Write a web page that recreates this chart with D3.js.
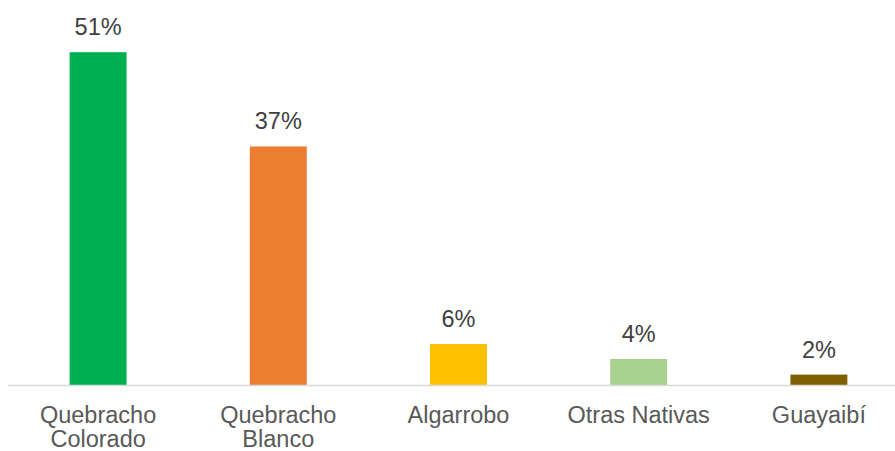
<!doctype html>
<html>
<head>
<meta charset="utf-8">
<script src="https://cdn.jsdelivr.net/npm/d3@7"></script>
<style>
  body { margin: 0; background: #fff; }
  svg { display: block; font-family: "Liberation Sans", Arial, sans-serif; }
</style>
</head>
<body>
<svg id="chart" width="895" height="451"></svg>
<script>
  var categories = [['Quebracho', 'Colorado'], ['Quebracho', 'Blanco'], ['Algarrobo'], ['Otras Nativas'], ['Guayaibí']];
  var shares = [0.512, 0.367, 0.063, 0.040, 0.016];
  var colors = ['#00B050', '#ED7D31', '#FFC000', '#A9D18E', '#7F6000'];

  var data = categories.map(function (c, i) {
    return { key: c.join(' '), lines: c, value: shares[i], color: colors[i] };
  });

  var svg = d3.select('#chart');
  var baseY = 385;

  var x = d3.scaleBand()
    .domain(data.map(function (d) { return d.key; }))
    .range([8, 909])
    .paddingInner(0.684)
    .paddingOuter(0.342);

  var y = d3.scaleLinear()
    .domain([0, 0.55])
    .range([baseY, baseY - 357.5]);

  var fmt = d3.format('.0%');

  svg.selectAll('rect.bar')
    .data(data)
    .enter().append('rect')
    .attr('class', 'bar')
    .attr('x', function (d) { return x(d.key); })
    .attr('width', x.bandwidth())
    .attr('y', function (d) { return y(d.value); })
    .attr('height', function (d) { return baseY - y(d.value); })
    .attr('fill', function (d) { return d.color; });

  // baseline
  svg.append('line')
    .attr('x1', 8).attr('x2', 895)
    .attr('y1', baseY + 0.5).attr('y2', baseY + 0.5)
    .attr('stroke', '#D9D9D9')
    .attr('stroke-width', 1.5);

  // value labels
  svg.selectAll('text.val')
    .data(data)
    .enter().append('text')
    .attr('class', 'val')
    .attr('x', function (d) { return x(d.key) + x.bandwidth() / 2; })
    .attr('y', function (d) { return y(d.value) - 17; })
    .attr('text-anchor', 'middle')
    .attr('font-size', '23.5px')
    .attr('fill', '#404040')
    .text(function (d) { return fmt(d.value); });

  // category labels
  var cat = svg.selectAll('text.cat')
    .data(data)
    .enter().append('text')
    .attr('class', 'cat')
    .attr('text-anchor', 'middle')
    .attr('font-size', '23.5px')
    .attr('fill', '#595959');

  cat.selectAll('tspan')
    .data(function (d) { return d.lines.map(function (l) { return { l: l, cx: x(d.key) + x.bandwidth() / 2 }; }); })
    .enter().append('tspan')
    .attr('x', function (t) { return t.cx; })
    .attr('y', function (t, i) { return 423 + i * 24; })
    .text(function (t) { return t.l; });
</script>
</body>
</html>
